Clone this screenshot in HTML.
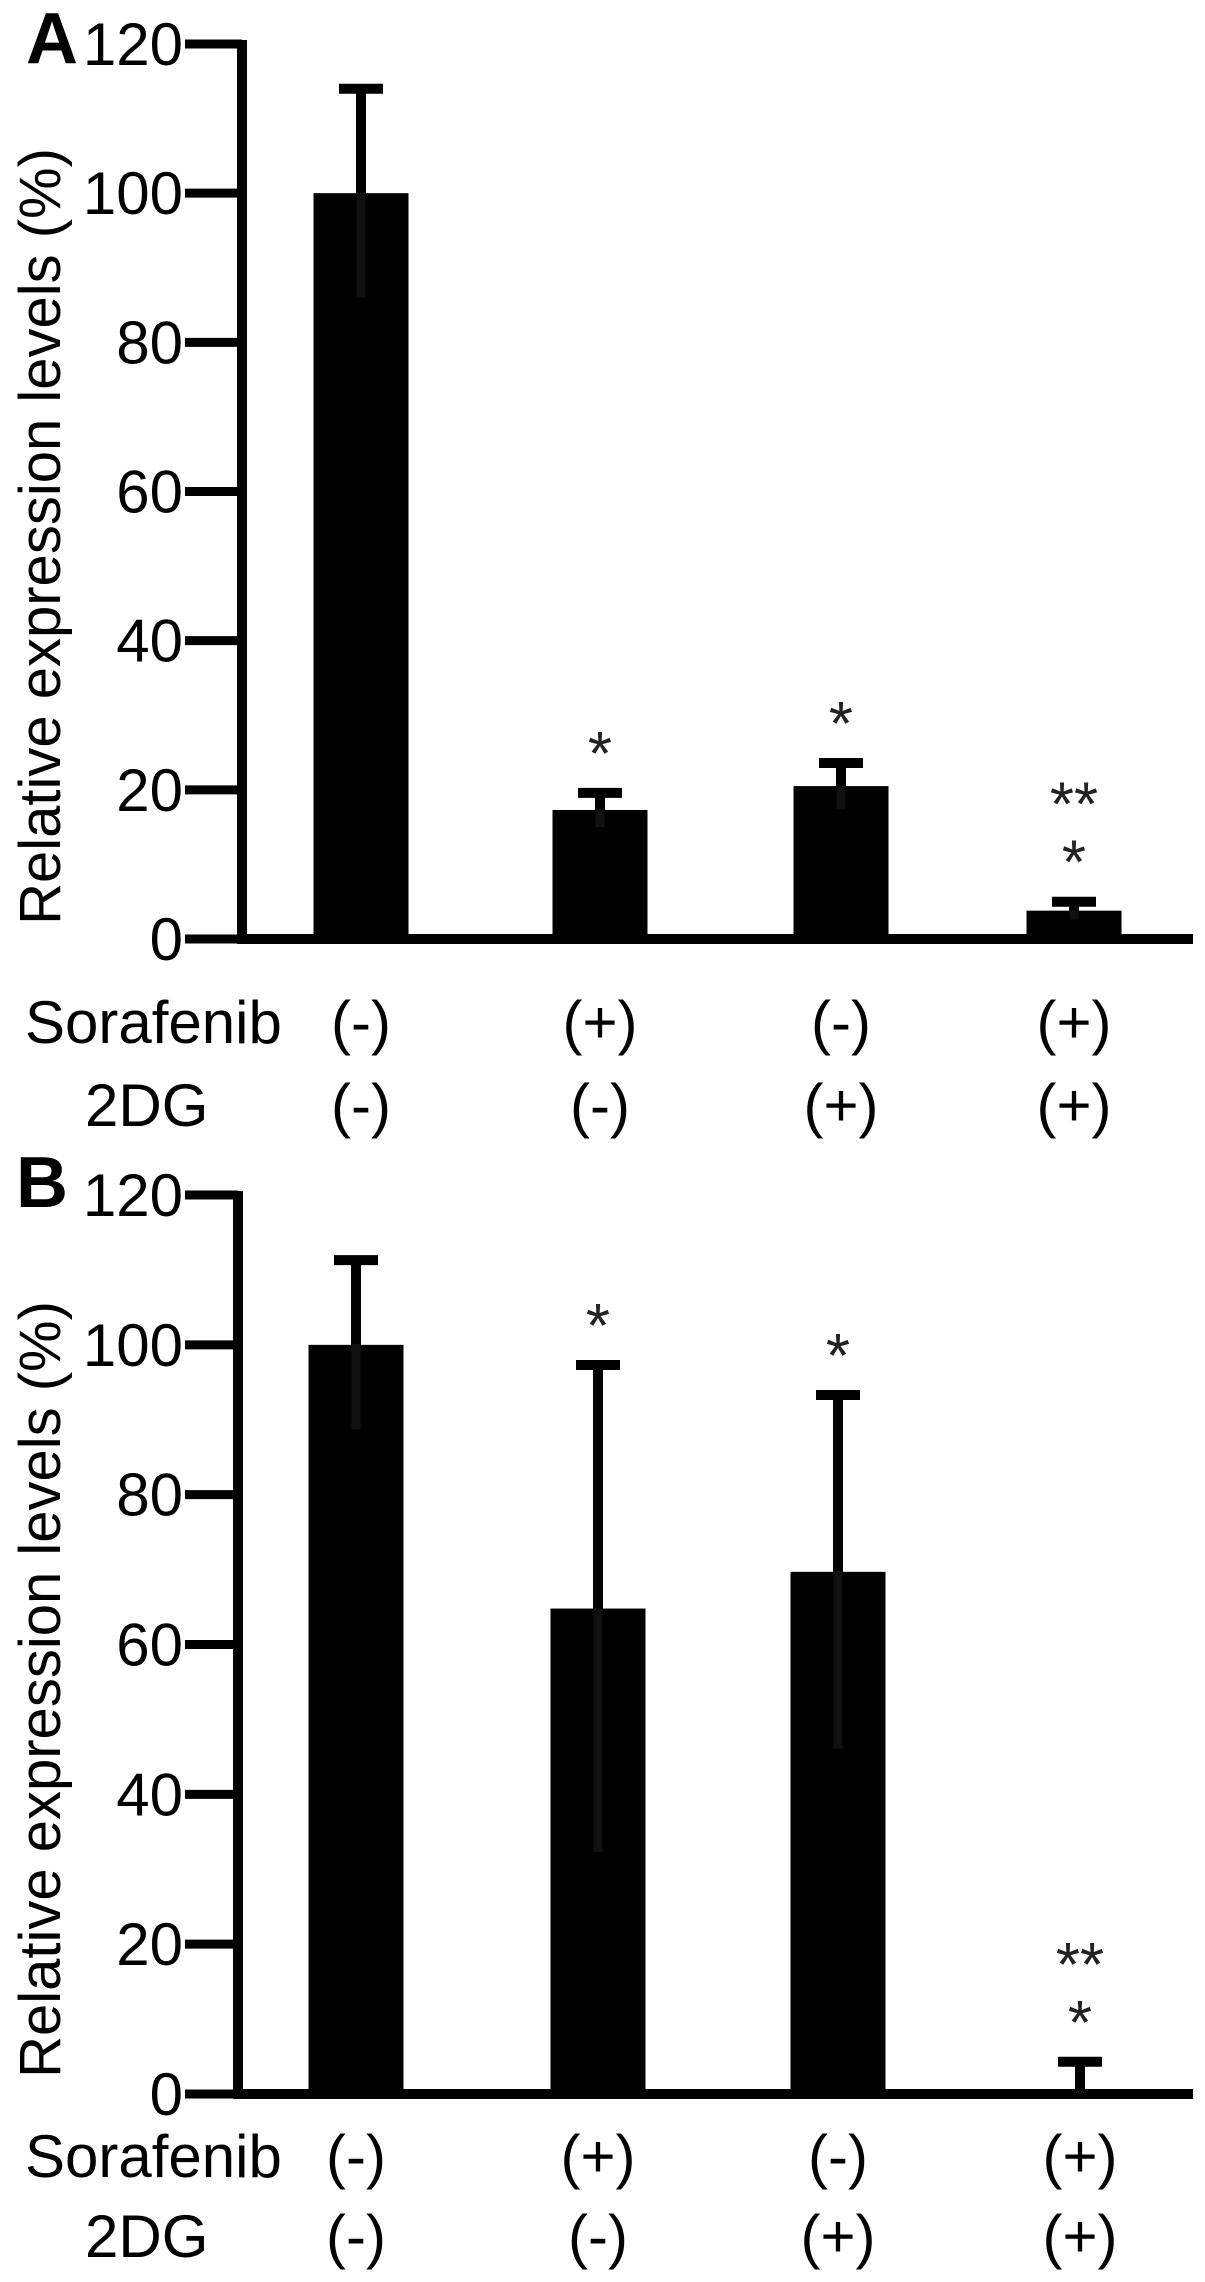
<!DOCTYPE html>
<html><head><meta charset="utf-8"><style>
html,body{margin:0;padding:0;background:#fff;}
svg{display:block;font-family:"Liberation Sans",Arial,sans-serif;}
</style></head><body>
<svg id="fig" width="1205" height="2282" viewBox="0 0 1205 2282" xmlns="http://www.w3.org/2000/svg"></svg>
<script>
const categories = ["ctrl", "sorafenib", "2dg", "combo"];
const sorafenibLabels = ["(-)", "(+)", "(-)", "(+)"];
const dgLabels = ["(-)", "(-)", "(+)", "(+)"];
const tickValues = [0, 20, 40, 60, 80, 100, 120];
const tickLabels = ["0", "20", "40", "60", "80", "100", "120"];
const meansA = [100, 17.3, 20.5, 3.8];
const errA = [14, 2.3, 3.1, 1.2];
const starsA = ["", "*", "*", "**\n*"];
const meansB = [100, 64.8, 69.7, 0.5];
const errB = [11.3, 32.5, 23.6, 3.8];
const starsB = ["", "*", "*", "**\n*"];

const NS = "http://www.w3.org/2000/svg";
const svg = document.getElementById("fig");
function mk(tag, attrs, parent) {
  const e = document.createElementNS(NS, tag);
  for (const k in attrs) e.setAttribute(k, attrs[k]);
  (parent || svg).appendChild(e);
  return e;
}

function panel(p) {
  const g = mk("g", {});
  
  
  const y = v => p.y0 + (p.y120 - p.y0) * v / 120;
  const x = i => p.xs[i];

  const letter = mk("text", {x: p.letterX, y: p.letterY, "font-size": 72, "font-weight": "bold"}, g);
  letter.textContent = p.letter;
  
  

  const title = mk("text", {x: 0, y: 0, "font-size": 58, "text-anchor": "middle", transform: `translate(60,${(y(120)+y(0))/2 + 45}) rotate(-90)`}, g);
  title.textContent = "Relative expression levels (%)";
  
  

  const axis = mk("line", {x1: p.ax, y1: y(120) - 4, x2: p.ax, y2: y(0) + 5, stroke: "#000", "stroke-width": 10}, g);
  
  
  const xaxis = mk("line", {x1: p.ax - 5, y1: y(0), x2: 1193, y2: y(0), stroke: "#000", "stroke-width": 10}, g);
  
  

  tickValues.forEach((v, i) => {
    const t = mk("line", {x1: 185, y1: y(v), x2: p.ax, y2: y(v), stroke: "#000", "stroke-width": 9}, g);
    
    
    const l = mk("text", {x: 183, y: y(v) + 21, "font-size": 60, "text-anchor": "end"}, g);
    l.textContent = tickLabels[i];
    
    
  });

  categories.forEach((c, i) => {
    const m = p.means[i], e = p.errs[i];
    const bw = 95;
    const bar = mk("rect", {x: x(i) - bw / 2, y: y(m), width: bw, height: y(0) - y(m), fill: "#000"}, g);
    
    
    const inner = mk("line", {x1: x(i), y1: y(m), x2: x(i), y2: y(Math.max(0, m - e)), stroke: "#111", "stroke-width": 9}, g);
    
    
    const eb = mk("line", {x1: x(i), y1: y(m), x2: x(i), y2: y(m + e), stroke: "#000", "stroke-width": 10}, g);
    
    
    const cap = mk("line", {x1: x(i) - 22, y1: y(m + e), x2: x(i) + 22, y2: y(m + e), stroke: "#000", "stroke-width": 10}, g);
    
    

    const s = p.stars[i];
    if (s) {
      const lines = s.split("\n");
      const lowestCenter = y(m + e) - 53;
      lines.forEach((ln, k) => {
        const center = lowestCenter - (lines.length - 1 - k) * 58;
        const st = mk("text", {x: x(i), y: center + 35, "font-size": 62, "text-anchor": "middle", fill: "#222"}, g);
        st.textContent = ln;
        
        
      });
    }

    const s1 = mk("text", {x: x(i), y: p.row1, "font-size": 60, "text-anchor": "middle"}, g);
    s1.textContent = sorafenibLabels[i];
    
    
    const s2 = mk("text", {x: x(i), y: p.row2, "font-size": 60, "text-anchor": "middle"}, g);
    s2.textContent = dgLabels[i];
    
    
  });

  const r1 = mk("text", {x: 25, y: p.row1, "font-size": 60}, g);
  r1.textContent = "Sorafenib";
  
  
  const r2 = mk("text", {x: 85, y: p.row2, "font-size": 60}, g);
  r2.textContent = "2DG";
  
  
}

panel({name: "panel-a", letter: "A", letterX: 26, letterY: 63, ax: 242, y0: 939, y120: 44,
  xs: [361, 600, 841, 1074], means: meansA, errs: errA, stars: starsA, row1: 1043, row2: 1126});
panel({name: "panel-b", letter: "B", letterX: 16, letterY: 1207, ax: 238, y0: 2094, y120: 1195,
  xs: [356, 598, 838, 1080], means: meansB, errs: errB, stars: starsB, row1: 2177, row2: 2257});
</script>
</body></html>
